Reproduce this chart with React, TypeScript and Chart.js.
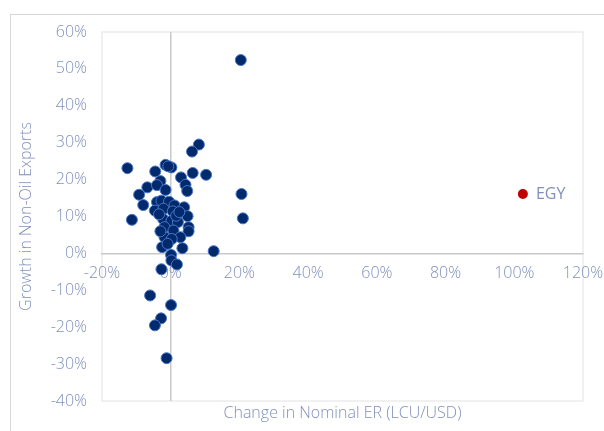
import React, { useEffect, useRef } from "react";
import { Chart, registerables } from "chart.js";

Chart.register(...registerables);

// Change in nominal exchange rate (LCU/USD), %
const erChange: number[] = [
  20.4, 8.2, 6.2, -12.6, -1.5, 0.2, -0.7, -4.5, 3.0, 6.4,
  10.3, -3.0, 4.3, 4.8, -6.8, -4.0, -1.5, -9.2, 20.6, -8.0,
  -4.0, -2.7, -0.5, 1.1, 3.9, -4.6, -2.1, 0.6, 4.9, -11.3,
  21.0, -2.2, 0.2, 2.1, 5.2, -1.8, 0.8, 5.2, 2.8, -1.8,
  0.3, -2.5, 3.4, 12.5, 0.1, 0.2, 1.8, -2.7, -6.0, 0.1,
  -2.8, -4.6, -1.2, -3.4, 1.6, -3.0, 2.5, -0.9,
];
// Growth in non-oil exports, %
const nonOilGrowth: number[] = [
  52.4, 29.5, 27.6, 23.1, 24.0, 23.3, 23.6, 22.2, 20.6, 21.8,
  21.3, 19.6, 18.6, 16.9, 17.9, 18.5, 17.2, 15.9, 16.1, 13.1,
  13.9, 14.3, 14.0, 13.0, 12.5, 11.6, 12.1, 11.4, 10.1, 9.1,
  9.5, 9.3, 8.8, 8.5, 7.1, 7.1, 6.2, 6.0, 4.4, 4.4,
  3.9, 1.7, 1.4, 0.6, -0.4, -1.9, -3.0, -4.3, -11.4, -14.0,
  -17.6, -19.5, -28.4, 10.6, 10.2, 6.0, 11.2, 2.6,
];

const egyLabel = ["EGY"];
const egyER = [102.5];
const egyGrowth = [16.1];

const xTicks = { min: -20, max: 120, step: 20 };
const yTicks = { min: -40, max: 60, step: 10 };

const TEXT = "#8090bb";
const FONT = "'Open Sans', 'DejaVu Sans', sans-serif";
const FS = 16;

export default function App() {
  const ref = useRef<HTMLCanvasElement | null>(null);

  useEffect(() => {
    if (!ref.current) return;

    const framePlugin = {
      id: "frame",
      beforeDraw(chart: any) {
        const { ctx, chartArea: a } = chart;
        ctx.save();
        ctx.strokeStyle = "#ececec";
        ctx.lineWidth = 1.5;
        ctx.strokeRect(a.left, a.top, a.right - a.left, a.bottom - a.top);
        ctx.restore();
      },
    };

    const labelPlugin = {
      id: "egyLabel",
      afterDatasetsDraw(chart: any) {
        const meta = chart.getDatasetMeta(1);
        const { ctx } = chart;
        ctx.save();
        ctx.fillStyle = TEXT;
        ctx.font = `${FS}px ${FONT}`;
        ctx.textBaseline = "middle";
        ctx.textAlign = "left";
        meta.data.forEach((el: any, i: number) => {
          ctx.fillText(egyLabel[i], el.x + 13, el.y);
        });
        ctx.restore();
      },
    };

    const chart = new Chart(ref.current, {
      type: "scatter",
      data: {
        datasets: [
          {
            label: "Countries",
            data: erChange.map((x, i) => ({ x, y: nonOilGrowth[i] })),
            backgroundColor: "#012a6c",
            borderColor: "#4a74c6",
            borderWidth: 1,
            pointRadius: 5.5,
          },
          {
            label: "EGY",
            data: egyER.map((x, i) => ({ x, y: egyGrowth[i] })),
            backgroundColor: "#c00000",
            borderColor: "#c00000",
            borderWidth: 0,
            pointRadius: 5,
          },
        ],
      },
      options: {
        animation: false,
        responsive: false,
        layout: { padding: { top: 32, right: 21, bottom: 0, left: 0 } },
        plugins: { legend: { display: false }, tooltip: { enabled: false } },
        scales: {
          x: {
            type: "linear",
            position: { y: 0 } as any,
            min: xTicks.min,
            max: xTicks.max,
            ticks: {
              stepSize: xTicks.step,
              padding: 10,
              color: TEXT,
              font: { family: FONT, size: FS, weight: 300 as any },
              callback: (v: any) => `${v}%`,
            },
            grid: {
              drawTicks: false,
              color: (c: any) => (c.tick && c.tick.value === 0 ? "#c9c9c9" : "rgba(0,0,0,0)"),
              lineWidth: 1.5,
            },
            border: { display: true, color: "#c9c9c9", width: 1.5 },
            afterFit: (s: any) => {
              s.paddingLeft = 0;
              s.paddingRight = 0;
            },
          },
          x2: {
            type: "linear",
            position: "bottom",
            min: xTicks.min,
            max: xTicks.max,
            ticks: { display: false },
            grid: { display: false, drawTicks: false },
            border: { display: false },
            title: {
              display: true,
              text: "Change in Nominal ER (LCU/USD)",
              color: TEXT,
              font: { family: FONT, size: FS, weight: 300 as any },
              padding: { top: 0, bottom: 8 },
            },
            afterFit: (s: any) => {
              s.height = 30;
              s.paddingLeft = 0;
              s.paddingRight = 0;
            },
          },
          y: {
            type: "linear",
            position: "left",
            min: yTicks.min,
            max: yTicks.max,
            ticks: {
              stepSize: yTicks.step,
              padding: 15,
              color: TEXT,
              font: { family: FONT, size: FS, weight: 300 as any },
              callback: (v: any) => `${v}%`,
            },
            grid: { display: false, drawTicks: false },
            border: { display: false },
            title: {
              display: true,
              text: "Growth in Non-Oil Exports",
              color: TEXT,
              font: { family: FONT, size: FS, weight: 300 as any },
              padding: { top: 17, bottom: 0 },
            },
            afterFit: (s: any) => {
              s.width = 102;
            },
          },
        },
      },
      plugins: [framePlugin, labelPlugin],
    });

    return () => chart.destroy();
  }, []);

  return (
    <div style={{ position: "fixed", left: 0, top: 0, width: 604, height: 431, background: "#fff", overflow: "hidden" }}>
      <div
        style={{
          position: "absolute",
          left: 10,
          top: 14,
          width: 700,
          height: 600,
          borderLeft: "1.5px solid #d6d6d6",
          borderTop: "1.5px solid #d6d6d6",
        }}
      />
      <canvas ref={ref} width={604} height={431} style={{ position: "absolute", left: 0, top: 0, width: 604, height: 431 }} />
    </div>
  );
}
